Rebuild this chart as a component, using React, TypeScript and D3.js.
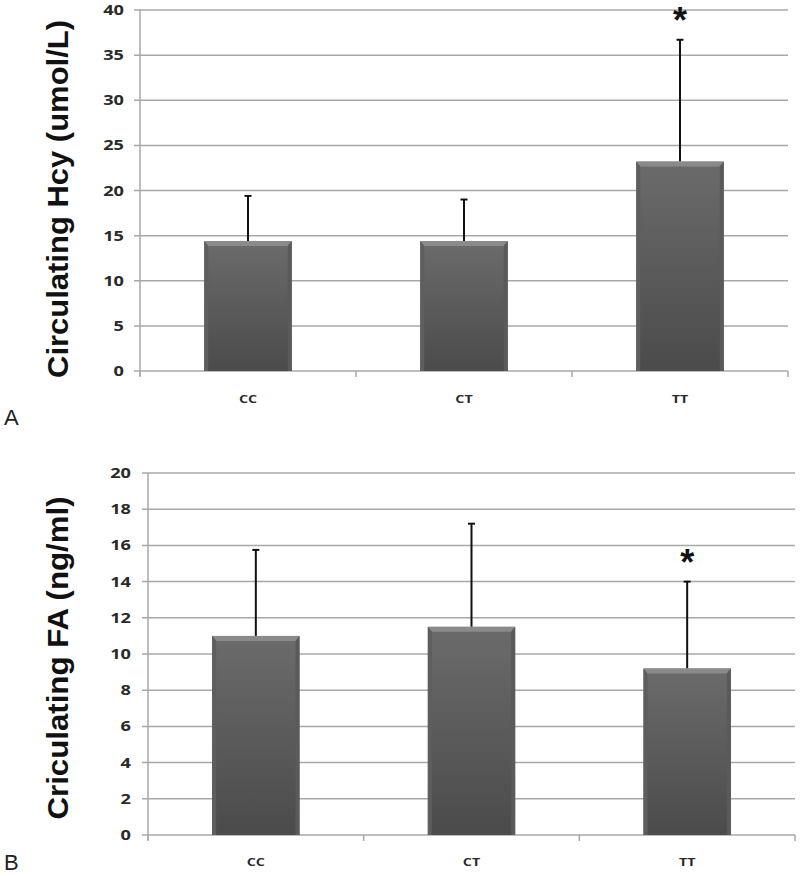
import React from "react";
import * as d3 from "d3";

const categories = ["CC", "CT", "TT"];
const hcyMeans = [14.4, 14.4, 23.2];
const hcyErrTop = [19.4, 19.0, 36.7];
const hcyStars = [false, false, true];
const hcyTicks = [0, 5, 10, 15, 20, 25, 30, 35, 40];

const faMeans = [11.0, 11.5, 9.2];
const faErrTop = [15.75, 17.2, 14.0];
const faStars = [false, false, true];
const faTicks = [0, 2, 4, 6, 8, 10, 12, 14, 16, 18, 20];

type PanelProps = {
  id: string;
  x0: number;
  x1: number;
  yTop: number;
  yBottom: number;
  yMax: number;
  ticks: number[];
  means: number[];
  errTop: number[];
  stars: boolean[];
  title: string;
  titleX: number;
  titleCY: number;
  titleLen: number;
  letter: string;
  letterY: number;
  catY: number;
  tickLabelX: number;
};

function Panel(p: PanelProps) {
  const x = d3.scaleBand<string>().domain(categories).range([p.x0, p.x1]).paddingInner(0).paddingOuter(0);
  const y = d3.scaleLinear().domain([0, p.yMax]).range([p.yBottom, p.yTop]);
  const bw = x.bandwidth() * 0.405;
  const tickEdges = [p.x0, ...categories.map((c) => (x(c) as number) + x.bandwidth())];
  return (
    <g>
      {p.ticks.map((t) => (
        <g key={t}>
          <line x1={p.x0 - 6} x2={p.x1} y1={y(t)} y2={y(t)} stroke="#a8a8a8" strokeWidth={1.5} />
          <text
            transform={`translate(${p.tickLabelX},${y(t)}) scale(1.3,1)`}
            dy="0.36em"
            textAnchor="end"
            fontFamily="'Open Sans', sans-serif"
            fontWeight="bold"
            fontSize={14}
            fill="#2a2a2a"
          >
            {t}
          </text>
        </g>
      ))}
      <line x1={p.x0} x2={p.x0} y1={p.yTop} y2={p.yBottom + 5} stroke="#a8a8a8" strokeWidth={1.5} />
      {tickEdges.map((e, i) => (
        <line key={i} x1={e} x2={e} y1={p.yBottom} y2={p.yBottom + 6} stroke="#a8a8a8" strokeWidth={1.5} />
      ))}
      {categories.map((c, i) => {
        const cx = (x(c) as number) + x.bandwidth() / 2;
        const left = cx - bw / 2;
        const top = y(p.means[i]);
        const h = p.yBottom - top;
        const eTop = y(p.errTop[i]);
        return (
          <g key={c}>
            <line x1={cx} x2={cx} y1={top} y2={eTop} stroke="#111" strokeWidth={2} />
            <line x1={cx - 3.5} x2={cx + 3.5} y1={eTop} y2={eTop} stroke="#111" strokeWidth={2} />
            <rect x={left} y={top} width={bw} height={h} fill={`url(#grad-${p.id})`} />
            <polygon
              points={`${left},${top} ${left + bw},${top} ${left + bw - 4},${top + 5} ${left + 4},${top + 5}`}
              fill="#8a8a8a"
            />
            <polygon
              points={`${left},${top} ${left + 4},${top + 5} ${left + 4},${p.yBottom} ${left},${p.yBottom}`}
              fill="#5e5e5e"
            />
            <polygon
              points={`${left + bw},${top} ${left + bw - 4},${top + 5} ${left + bw - 4},${p.yBottom} ${left + bw},${p.yBottom}`}
              fill="#5a5a5a"
            />
            {p.stars[i] && (
              <text x={cx} y={eTop - 7} textAnchor="middle" fontFamily="'Liberation Sans', Arial, sans-serif" fontWeight="bold" fontSize={36} fill="#111">
                *
              </text>
            )}
            <text
              transform={`translate(${cx},${p.catY}) scale(1.3,1)`}
              textAnchor="middle"
              fontFamily="'Open Sans', sans-serif"
              fontWeight="bold"
              fontSize={11}
              fill="#2a2a2a"
            >
              {c}
            </text>
          </g>
        );
      })}
      <text
        transform={`translate(${p.titleX},${p.titleCY}) rotate(-90)`}
        textAnchor="middle"
        dy="0.35em"
        fontFamily="'Liberation Sans', Arial, sans-serif"
        fontWeight="bold"
        fontSize={30}
        textLength={p.titleLen}
        lengthAdjust="spacingAndGlyphs"
        fill="#111"
      >
        {p.title}
      </text>
      <text x={4} y={p.letterY} fontFamily="'Liberation Sans', Arial, sans-serif" fontSize={22} fill="#222">
        {p.letter}
      </text>
    </g>
  );
}

export default function App() {
  return (
    <svg width={800} height={876} style={{ position: "absolute", left: 0, top: 0, background: "#fff" }}>
      <defs>
        {["a", "b"].map((k) => (
          <linearGradient key={k} id={`grad-${k}`} x1="0" y1="0" x2="0" y2="1">
            <stop offset="0%" stopColor="#6b6b6b" />
            <stop offset="100%" stopColor="#4b4b4b" />
          </linearGradient>
        ))}
      </defs>
      <Panel
        id="a"
        x0={140}
        x1={788}
        yTop={10}
        yBottom={371}
        yMax={40}
        ticks={hcyTicks}
        means={hcyMeans}
        errTop={hcyErrTop}
        stars={hcyStars}
        title="Circulating Hcy (umol/L)"
        titleX={57}
        titleCY={199}
        titleLen={358}
        letter="A"
        letterY={425}
        catY={403}
        tickLabelX={124}
      />
      <Panel
        id="b"
        x0={148}
        x1={795}
        yTop={473}
        yBottom={835}
        yMax={20}
        ticks={faTicks}
        means={faMeans}
        errTop={faErrTop}
        stars={faStars}
        title="Criculating FA (ng/ml)"
        titleX={57}
        titleCY={658}
        titleLen={323}
        letter="B"
        letterY={870}
        catY={866}
        tickLabelX={131}
      />
    </svg>
  );
}
